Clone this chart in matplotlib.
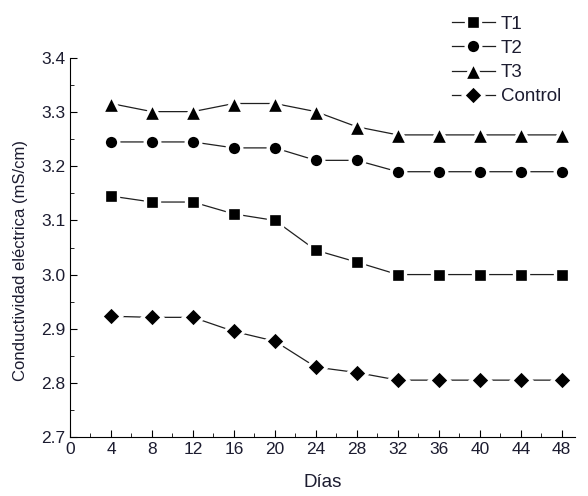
import numpy as np
import matplotlib
matplotlib.use('Agg')
import matplotlib.pyplot as plt
from matplotlib.ticker import MultipleLocator

plt.rcParams['font.family'] = ['Liberation Sans', 'DejaVu Sans']

# datos
dias = [4, 8, 12, 16, 20, 24, 28, 32, 36, 40, 44, 48]
t1 = [3.145, 3.134, 3.134, 3.112, 3.100, 3.045, 3.023, 3.000, 3.000, 3.000, 3.000, 3.000]
t2 = [3.245, 3.245, 3.245, 3.234, 3.234, 3.211, 3.211, 3.190, 3.190, 3.190, 3.190, 3.190]
t3 = [3.316, 3.301, 3.301, 3.316, 3.316, 3.301, 3.273, 3.258, 3.258, 3.258, 3.258, 3.258]
control = [2.923, 2.921, 2.921, 2.895, 2.877, 2.829, 2.819, 2.805, 2.805, 2.805, 2.805, 2.805]

series = ['T1', 'T2', 'T3', 'Control']
markers = ['s', 'o', '^', 'D']
sizes = [9.5, 10.5, 13.5, 10]

txt = '#1c1c30'

fig = plt.figure(figsize=(5.88, 4.96), dpi=100)
ax = fig.add_axes([0.119, 0.119, 0.859, 0.764])

for vals, name, m, s in zip([t1, t2, t3, control], series, markers, sizes):
    ax.plot(dias, vals, color='#202020', lw=0.9, marker=m, ms=s,
            mfc='black', mec='white', mew=2.4, label=name)

ax.set_xlim(0, 49.3)
ax.set_ylim(2.7, 3.4)
ax.xaxis.set_major_locator(MultipleLocator(4))
ax.xaxis.set_minor_locator(MultipleLocator(2))
ax.yaxis.set_major_locator(MultipleLocator(0.1))
ax.yaxis.set_minor_locator(MultipleLocator(0.05))
ax.yaxis.set_major_formatter(matplotlib.ticker.FormatStrFormatter('%.1f'))

ax.spines['top'].set_visible(False)
ax.spines['right'].set_visible(False)
ax.tick_params(which='both', direction='in', colors='black', labelcolor=txt, labelsize=12.5)
ax.tick_params(which='major', length=5)
ax.tick_params(which='minor', length=3)

ax.set_xlabel('Días', fontsize=13.5, color=txt, labelpad=12)
ax.set_ylabel('Conductividad eléctrica (mS/cm)', fontsize=12, color=txt)
ax.yaxis.set_label_coords(-0.083, 0.467)

leg = ax.legend(loc='upper left', bbox_to_anchor=(0.756, 1.112), frameon=False,
                fontsize=13.5, handlelength=2.3, handletextpad=0.3, labelspacing=0.38,
                borderaxespad=0, borderpad=0)
for t in leg.get_texts():
    t.set_color(txt)
leg.set_clip_on(False)

fig.savefig('out.png', dpi=100)
